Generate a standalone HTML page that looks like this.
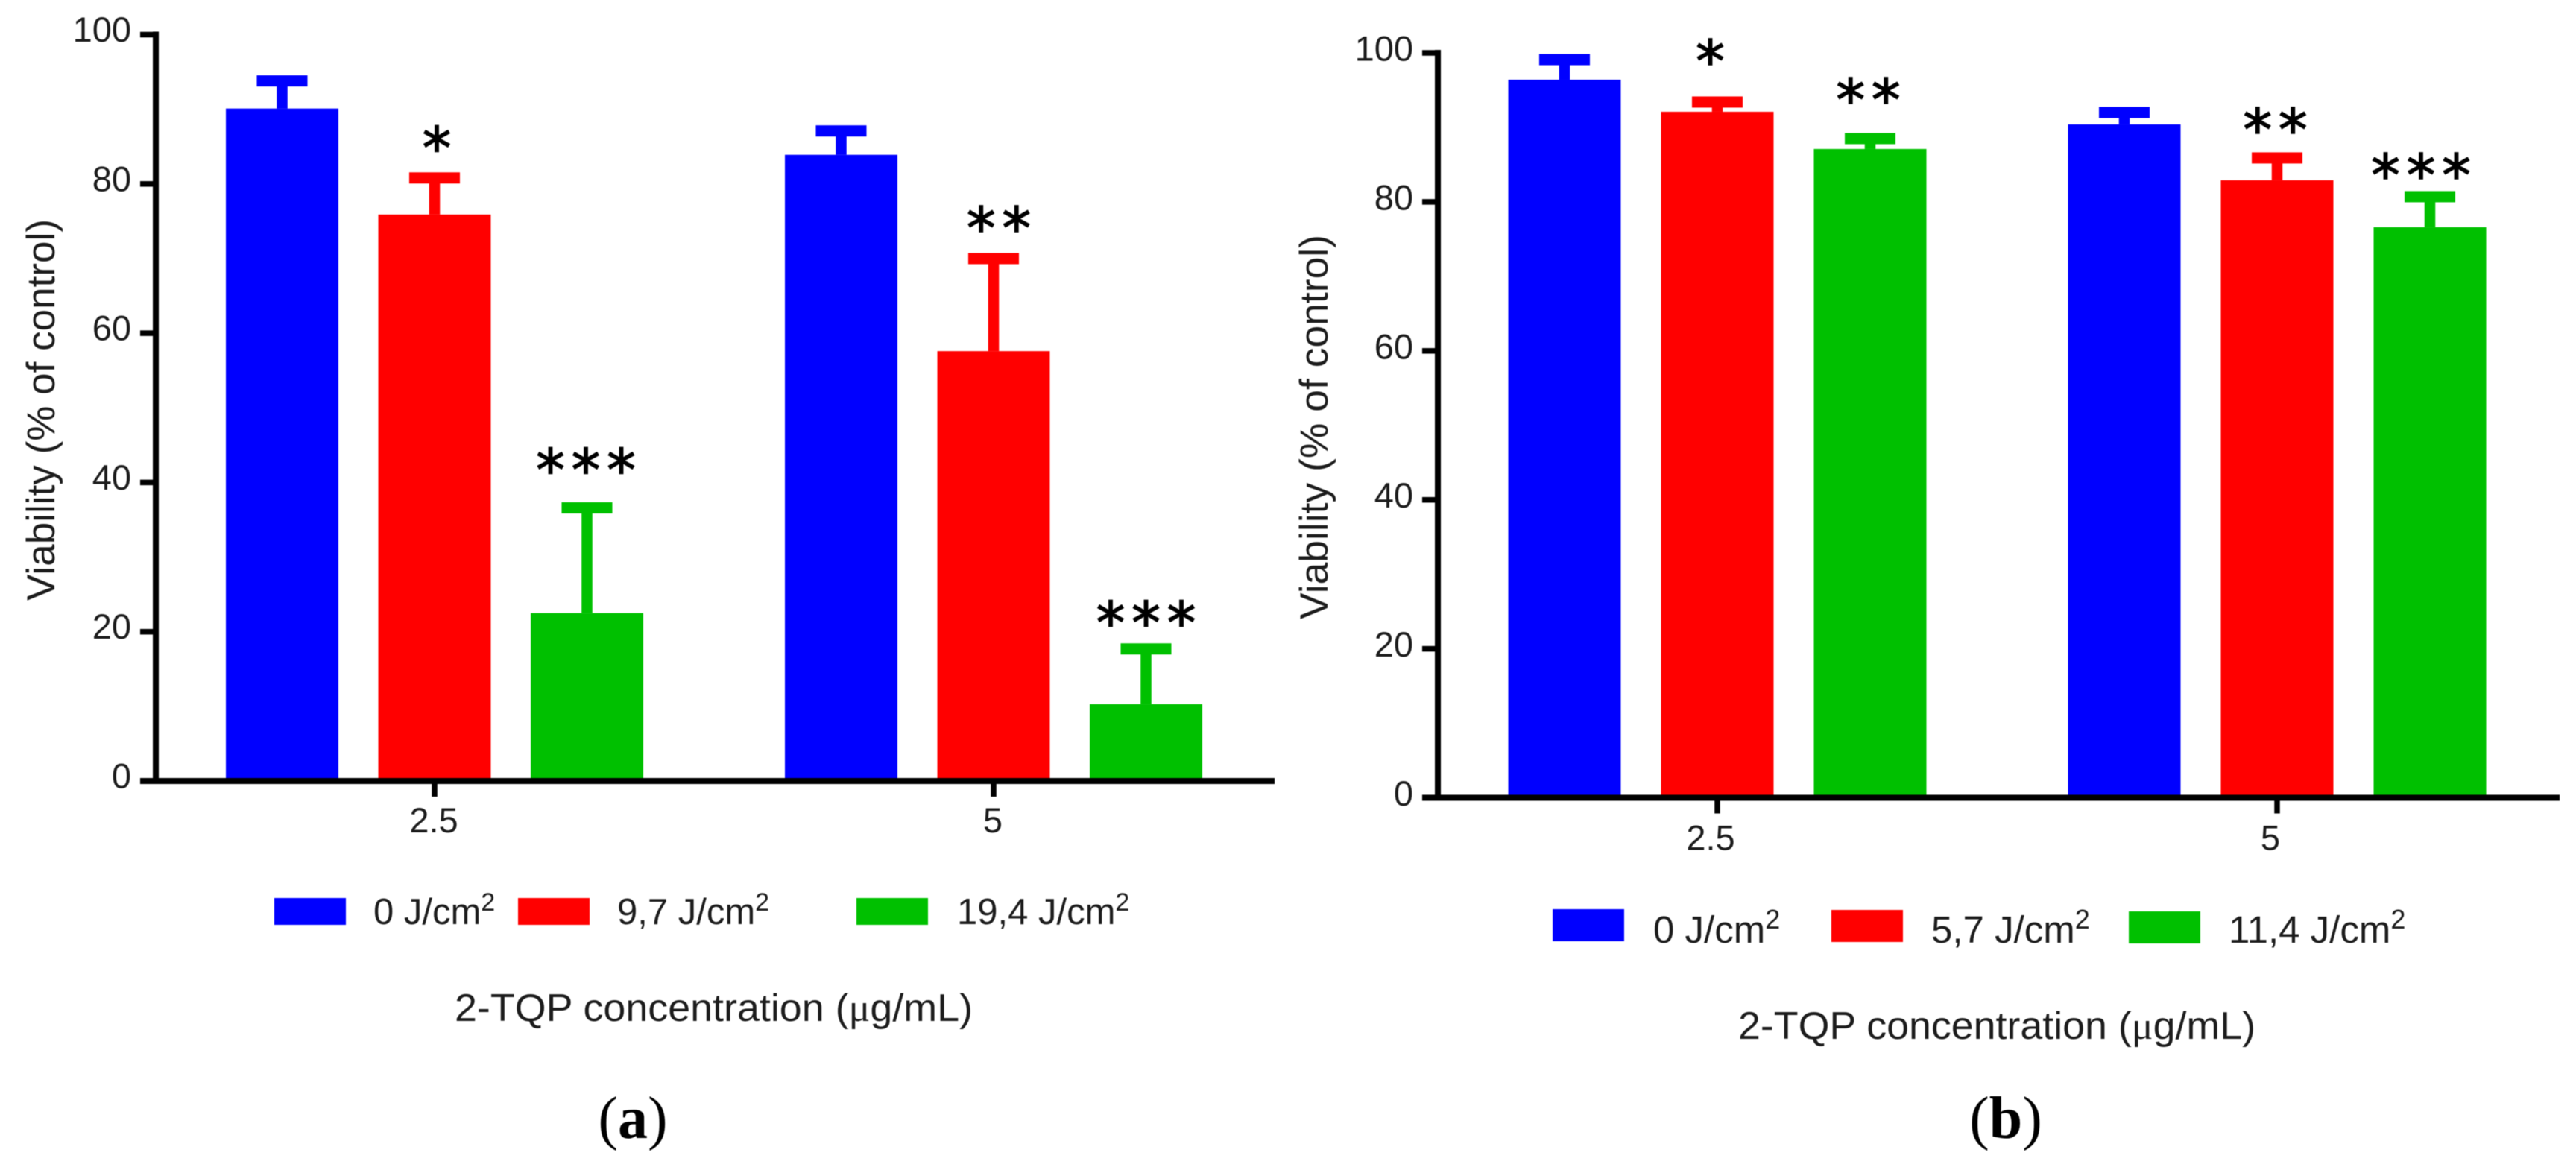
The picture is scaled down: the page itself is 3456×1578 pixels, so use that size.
<!DOCTYPE html>
<html lang="en">
<head>
<meta charset="utf-8">
<title>Viability of cells versus 2-TQP concentration</title>
<style>
html,body{margin:0;padding:0;background:#fff;width:3456px;height:1578px;overflow:hidden}
svg{display:block}
text{font-family:"Liberation Sans",sans-serif;fill:#1c1c1c}
.serif{font-family:"Liberation Serif",serif;fill:#000}
.star{font-family:"DejaVu Sans",sans-serif;fill:#000;stroke:#000;stroke-width:1.6px}
#figure{filter:blur(0.6px)}
</style>
</head>
<body>
<svg id="figure" xmlns="http://www.w3.org/2000/svg" width="3456" height="1578" viewBox="0 0 3456 1578">
  <rect width="3456" height="1578" fill="#fff"/>
  <g id="panel-a">
    <text transform="translate(73,550) rotate(-90)" text-anchor="middle" font-size="53" textLength="512" lengthAdjust="spacingAndGlyphs">Viability (% of control)</text>
    <text x="610" y="1370" font-size="52" textLength="695" lengthAdjust="spacingAndGlyphs">2-TQP concentration (<tspan font-family="Liberation Serif">μ</tspan>g/mL)</text>
    <text class="serif" x="849" y="1527" text-anchor="middle" font-size="80">(<tspan font-weight="bold">a</tspan>)</text>
  </g>
  <g id="panel-b">
    <text transform="translate(1781,573) rotate(-90)" text-anchor="middle" font-size="53" textLength="516" lengthAdjust="spacingAndGlyphs">Viability (% of control)</text>
    <text x="2332" y="1394" font-size="52" textLength="694" lengthAdjust="spacingAndGlyphs">2-TQP concentration (<tspan font-family="Liberation Serif">μ</tspan>g/mL)</text>
    <text class="serif" x="2691" y="1527" text-anchor="middle" font-size="80">(<tspan font-weight="bold">b</tspan>)</text>
  </g>
</svg>
<script>
// ---- shared data ----
const categories = ['2.5', '5'];
const yTicks = [0, 20, 40, 60, 80, 100];
const seriesColors = ['#0000ff', '#ff0000', '#00c000'];

// ---- panel (a) data ----
const aLegend = ['0 J/cm', '9,7 J/cm', '19,4 J/cm'];
const aZero = [90.1, 83.9];
const aLow = [75.9, 57.6];
const aHigh = [22.5, 10.3];
const aZeroErr = [93.8, 87.1];
const aLowErr = [80.8, 70.0];
const aHighErr = [36.6, 17.7];
const aStars = [[0, 1, 3], [0, 2, 3]];
const aStarLevel = [[0, 85.6, 42.5], [0, 74.9, 22.0]];

// ---- panel (b) data ----
const bLegend = ['0 J/cm', '5,7 J/cm', '11,4 J/cm'];
const bZero = [96.4, 90.4];
const bLow = [92.1, 82.9];
const bHigh = [87.1, 76.6];
const bZeroErr = [99.1, 92.0];
const bLowErr = [93.4, 85.9];
const bHighErr = [88.5, 80.7];
const bStars = [[0, 1, 2], [0, 2, 3]];
const bStarLevel = [[0, 99.7, 94.5], [0, 90.5, 84.4]];

const NS = 'http://www.w3.org/2000/svg';

function make(parent, tag, attrs, text) {
  const el = document.createElementNS(NS, tag);
  for (const k in attrs) el.setAttribute(k, attrs[k]);
  if (text !== undefined) el.textContent = text;
  parent.appendChild(el);
  return el;
}

function drawPanel(root, layout, values, errors, stars, starLevel, legendLabels) {
  const yScale = v => layout.y0 - v * layout.pxPerUnit;
  const xBand = c => layout.cat0 + c * layout.catStep;
  const xBar = (c, s) => xBand(c) + (s - 1) * layout.barStep;

  // y axis line
  const yAxis = make(root, 'rect', {x: layout.axisX, y: yScale(100) - 4, width: 8, height: layout.y0 - yScale(100) + 8, fill: '#000'});
  
  

  // y ticks and labels
  yTicks.forEach(t => {
    const tick = make(root, 'rect', {x: layout.axisX - 17, y: yScale(t) - 3.75, width: 17, height: 7.5, fill: '#000'});
    
    
    const label = make(root, 'text', {x: layout.axisX - 29, y: yScale(t) + layout.tickDy, 'text-anchor': 'end', 'font-size': 47}, String(t));
    
    
  });

  // bars and error bars
  const barW = 151, capW = 68, capH = 15, stemW = 14.5;
  categories.forEach((cat, c) => {
    values.forEach((series, s) => {
      const cx = xBar(c, s);
      const top = yScale(series[c]);
      const errY = yScale(errors[s][c]);
      const stem = make(root, 'rect', {x: cx - stemW / 2, y: errY, width: stemW, height: top - errY, fill: seriesColors[s]});
      
      
      const cap = make(root, 'rect', {x: cx - capW / 2, y: errY - capH / 2, width: capW, height: capH, fill: seriesColors[s]});
      
      
      const bar = make(root, 'rect', {x: cx - barW / 2, y: top, width: barW, height: layout.y0 - top, fill: seriesColors[s]});
      
      

      // significance markers
      const count = stars[c][s];
      for (let i = 0; i < count; i++) {
        const sx = cx + layout.starNudge[c][s] + (i - (count - 1) / 2) * 47.5;
        const star = make(root, 'text', {class: 'star', x: sx, y: yScale(starLevel[c][s]) + 35, 'text-anchor': 'middle', 'font-size': 77}, '*');
        
        
      }
    });

    // x tick and label
    const xt = make(root, 'rect', {x: xBand(c) - 3.75, y: layout.y0, width: 7.5, height: 21, fill: '#000'});
    
    
    const xl = make(root, 'text', {x: xBand(c) + layout.catLabelDx, y: layout.y0 + layout.catLabelDy, 'text-anchor': 'middle', 'font-size': 47}, cat);
    
    
  });

  // x axis line, painted over bar bottoms
  const xAxis = make(root, 'rect', {x: layout.axisX - 17, y: layout.y0 - 4, width: layout.axisEnd - layout.axisX + 17, height: 8, fill: '#000'});
  
  

  // legend
  legendLabels.forEach((name, s) => {
    const sw = make(root, 'rect', {x: layout.legendSwatchX[s], y: layout.legendSwatchY[s], width: 96, height: layout.legendSwatchH, fill: seriesColors[s]});
    
    
    const t = make(root, 'text', {x: layout.legendTextX[s], y: layout.legendBaseline, 'font-size': layout.legendFont}, name);
    
    
    make(t, 'tspan', {dy: -Math.round(layout.legendFont * 0.37), 'font-size': Math.round(layout.legendFont * 0.7)}, '2');
  });
}

drawPanel(document.getElementById('panel-a'), {
  y0: 1048, pxPerUnit: 10.015, axisX: 205, axisEnd: 1710, tickDy: 9.5,
  cat0: 583, catStep: 750, barStep: 204.5, catLabelDx: -1, catLabelDy: 69,
  starNudge: [[0, 3, -1.5], [0, 7, 0]],
  legendSwatchX: [368, 695, 1149], legendSwatchY: [1205, 1205, 1205], legendSwatchH: 36,
  legendTextX: [501, 828, 1284], legendBaseline: 1240, legendFont: 49
}, [aZero, aLow, aHigh], [aZeroErr, aLowErr, aHighErr], aStars, aStarLevel, aLegend);

drawPanel(document.getElementById('panel-b'), {
  y0: 1070.5, pxPerUnit: 9.995, axisX: 1925, axisEnd: 3434, tickDy: 10.5,
  cat0: 2304, catStep: 751, barStep: 205, catLabelDx: -9, catLabelDy: 70,
  starNudge: [[0, -9.5, -2.5], [0, -2.5, -12]],
  legendSwatchX: [2083, 2457, 2856], legendSwatchY: [1220, 1221, 1223], legendSwatchH: 43,
  legendTextX: [2218, 2591, 2990], legendBaseline: 1265, legendFont: 51
}, [bZero, bLow, bHigh], [bZeroErr, bLowErr, bHighErr], bStars, bStarLevel, bLegend);
</script>
</body>
</html>
